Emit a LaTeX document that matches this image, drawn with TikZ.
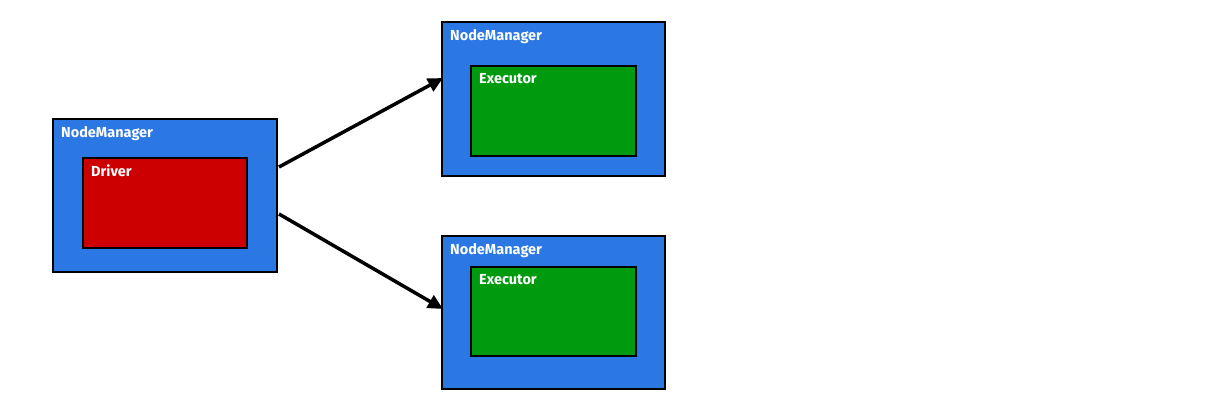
\documentclass[tikz,border=0pt]{standalone}
\usepackage{fontspec}
\setmainfont{Fira Sans}
\usetikzlibrary{arrows.meta}
\definecolor{nmblue}{HTML}{2B78E4}
\definecolor{drvred}{HTML}{CC0000}
\definecolor{exgreen}{HTML}{009A0F}
\begin{document}
\begin{tikzpicture}[x=1pt,y=-1pt,
  box/.style={draw=black,line width=2.2pt},
  lbl/.style={text=white,font=\fontsize{14.5}{15}\selectfont\bfseries,anchor=north west,inner sep=0pt},
  conn/.style={line width=3.5pt,-{Triangle[length=15pt,width=14pt]}}]
\useasboundingbox (0,0) rectangle (1206,411);
% left node manager
\draw[box,fill=nmblue] (53,119) rectangle (277,272);
\node[lbl] (nmLt) at (61,126) {NodeManager};
\draw[box,fill=drvred] (83,158) rectangle (247,248);
\node[lbl] (drv) at (91,165) {Driver};
% top node manager
\draw[box,fill=nmblue] (442,22) rectangle (665,176);
\node[lbl] (nmTt) at (450,29) {NodeManager};
\draw[box,fill=exgreen] (471,66) rectangle (636,156);
\node[lbl] (exT) at (479,73) {Executor};
% bottom node manager
\draw[box,fill=nmblue] (442,236) rectangle (665,389);
\node[lbl] (nmBt) at (450,243) {NodeManager};
\draw[box,fill=exgreen] (471,267) rectangle (636,356);
\node[lbl] (exB) at (479,274) {Executor};
% arrows
\coordinate (a1s) at (279,167);
\coordinate (a1e) at (443,78);
\coordinate (a2s) at (279,214);
\coordinate (a2e) at (443,309);
\draw[conn] (a1s) -- (a1e);
\draw[conn] (a2s) -- (a2e);
\end{tikzpicture}
\end{document}
